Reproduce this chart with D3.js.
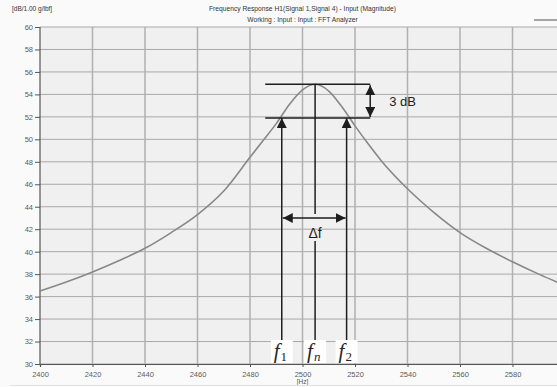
<!DOCTYPE html>
<html><head><meta charset="utf-8">
<script src="https://cdn.jsdelivr.net/npm/d3@7"></script>
<style>
html,body{margin:0;padding:0;background:#fafafa;overflow:hidden;}
svg{display:block;}
text{font-family:"Liberation Sans",Arial,sans-serif;}
</style></head><body>
<svg id="c" width="557" height="387"></svg>
<script>
// ---- data ----
const freqs = [2400,2410,2420,2430,2440,2450,2460,2470,2480,2485,2490,2495,2500,2505,2510,2515,2520,2525,2530,2540,2550,2560,2570,2580,2590,2600];
const mags  = [36.5,37.3,38.2,39.2,40.3,41.7,43.3,45.4,48.4,49.9,51.4,53.1,54.4,54.9,54.3,52.9,51.2,49.6,48.1,45.6,43.5,41.7,40.3,39.1,38.0,37.0];
const xTicks = [2400,2420,2440,2460,2480,2500,2520,2540,2560,2580,2600];
const yTicks = [30,32,34,36,38,40,42,44,46,48,50,52,54,56,58,60];
const fPeak = 2504.8, f1 = 2492.1, f2 = 2516.8;
const peakDb = 54.9, lowDb = 51.9;
const hLineFrom = 2485.8, hLineTo = 2525.8;
const titleLines = ["Frequency Response H1(Signal 1,Signal 4) - Input (Magnitude)", "Working : Input : Input : FFT Analyzer"];
const yUnit = "[dB/1.00 g/lbf]";
const xUnit = "[Hz]";

// ---- layout ----
const svg = d3.select("#c");
const L = 40, R = 565, T = 27, B = 364;
const x = d3.scaleLinear().domain([2400,2600]).range([L,R]);
const y = d3.scaleLinear().domain([30,60]).range([B,T]);

svg.append("rect").attr("width",557).attr("height",387).attr("fill","#fafafa");
svg.append("rect").attr("x",L).attr("y",T).attr("width",R-L).attr("height",B-T).attr("fill","#f0f0f0");

// grid
svg.append("g").selectAll("line").data(yTicks).join("line")
  .attr("x1",L).attr("x2",R).attr("y1",d=>y(d)).attr("y2",d=>y(d))
  .attr("stroke","#a9a9a9").attr("stroke-width",1);
svg.append("g").selectAll("line").data(xTicks.slice(1)).join("line")
  .attr("y1",T).attr("y2",B).attr("x1",d=>x(d)).attr("x2",d=>x(d))
  .attr("stroke","#b0b0b0").attr("stroke-width",1.5);

// axes
const yAxis = d3.axisLeft(y).tickValues(yTicks).tickFormat(d3.format("d")).tickSize(5).tickPadding(2);
const gy = svg.append("g").attr("transform",`translate(${L},0)`).call(yAxis);
const xAxis = d3.axisBottom(x).tickValues(xTicks).tickFormat(d3.format("d")).tickSize(3).tickPadding(5);
const gx = svg.append("g").attr("transform",`translate(0,${B})`).call(xAxis);
[gy,gx].forEach(g=>{
  g.select(".domain").attr("stroke","#555").attr("stroke-width",1.2);
  g.selectAll(".tick line").attr("stroke","#555");
  g.selectAll(".tick text").attr("fill","#5a5a5a").style("font-size","7.5px").style("font-family","Liberation Sans, Arial, sans-serif");
});
gy.select(".domain").attr("d",`M-0,${T}V${B}`);

// titles
svg.append("text").attr("x",12).attr("y",11).attr("font-size","6.5px").attr("fill","#333").text(yUnit);
svg.append("text").attr("x",(L+R)/2).attr("y",11).attr("text-anchor","middle").attr("font-size","6.7px").attr("fill","#333").text(titleLines[0]);
svg.append("text").attr("x",(L+R)/2).attr("y",22).attr("text-anchor","middle").attr("font-size","6.7px").attr("fill","#333").text(titleLines[1]);
svg.append("text").attr("x",x(2500)).attr("y",384).attr("text-anchor","middle").attr("font-size","6.5px").attr("fill","#555").text(xUnit);
svg.append("line").attr("x1",534).attr("x2",557).attr("y1",20).attr("y2",20).attr("stroke","#888").attr("stroke-width",1.5);

// curve
const line = d3.line().x((d,i)=>x(freqs[i])).y(d=>y(d)).curve(d3.curveMonotoneX);
svg.append("path").datum(mags).attr("d",line).attr("fill","none").attr("stroke","#888").attr("stroke-width",1.6);

// annotations
const ink = "#1e1e1e";
const defs = svg.append("defs");
defs.append("marker").attr("id","ah").attr("viewBox","0 0 10 10").attr("refX",10).attr("refY",5)
  .attr("markerWidth",10).attr("markerHeight",10).attr("markerUnits","userSpaceOnUse").attr("orient","auto-start-reverse")
  .append("path").attr("d","M0,0L10,5L0,10Z").attr("fill",ink);

const ann = svg.append("g").attr("stroke",ink).attr("stroke-width",1.5).attr("fill","none");
ann.append("line").attr("x1",x(hLineFrom)).attr("x2",x(hLineTo)).attr("y1",y(peakDb)).attr("y2",y(peakDb));
ann.append("line").attr("x1",x(hLineFrom)).attr("x2",x(hLineTo)).attr("y1",y(lowDb)).attr("y2",y(lowDb));
// 3 dB arrow
ann.append("line").attr("x1",x(hLineTo)).attr("x2",x(hLineTo)).attr("y1",y(peakDb)+1).attr("y2",y(lowDb)-1)
  .attr("marker-start","url(#ah)").attr("marker-end","url(#ah)");
// f1 / f2 arrows
const labelTop = 340;
[f1,f2].forEach(f=>{
  ann.append("line").attr("x1",x(f)).attr("x2",x(f)).attr("y1",labelTop).attr("y2",y(lowDb)).attr("marker-end","url(#ah)");
});
// fn line with gap
const dfY = 218;
ann.append("line").attr("x1",x(fPeak)).attr("x2",x(fPeak)).attr("y1",y(peakDb)).attr("y2",dfY-4);
ann.append("line").attr("x1",x(fPeak)).attr("x2",x(fPeak)).attr("y1",241).attr("y2",labelTop);
// delta f arrow
ann.append("line").attr("x1",x(f1)+1).attr("x2",x(f2)-1).attr("y1",dfY).attr("y2",dfY)
  .attr("marker-start","url(#ah)").attr("marker-end","url(#ah)");

svg.append("text").attr("x",x(hLineTo)+19).attr("y",y((peakDb+lowDb)/2)+5).attr("font-size","13px").attr("fill",ink)
  .style("font-family","Liberation Sans, Arial, sans-serif").text("3 dB");
svg.append("text").attr("x",x(fPeak)).attr("y",238).attr("text-anchor","middle").attr("font-size","14px").attr("fill",ink)
  .style("font-family","Liberation Sans, Arial, sans-serif").text("Δf");

// f labels
const flabels = [{f:f1,s:"1",it:false},{f:fPeak,s:"n",it:true},{f:f2,s:"2",it:false}];
flabels.forEach(d=>{
  svg.append("rect").attr("x",x(d.f)-11).attr("y",labelTop).attr("width",22).attr("height",23).attr("fill","#ffffff");
  const t = svg.append("text").attr("x",x(d.f)-8).attr("y",358).attr("fill","#2b2620")
    .style("font-family","'Liberation Serif','DejaVu Serif',serif");
  t.append("tspan").attr("font-style","italic").attr("font-size","21px").text("f");
  t.append("tspan").attr("font-style",d.it?"italic":"normal").attr("font-size","13px").attr("dy",3).attr("dx",1).text(d.s);
});

// bottom faint line
svg.append("line").attr("x1",10).attr("x2",557).attr("y1",385.5).attr("y2",385.5).attr("stroke","#e2e2e2");
</script></body></html>
